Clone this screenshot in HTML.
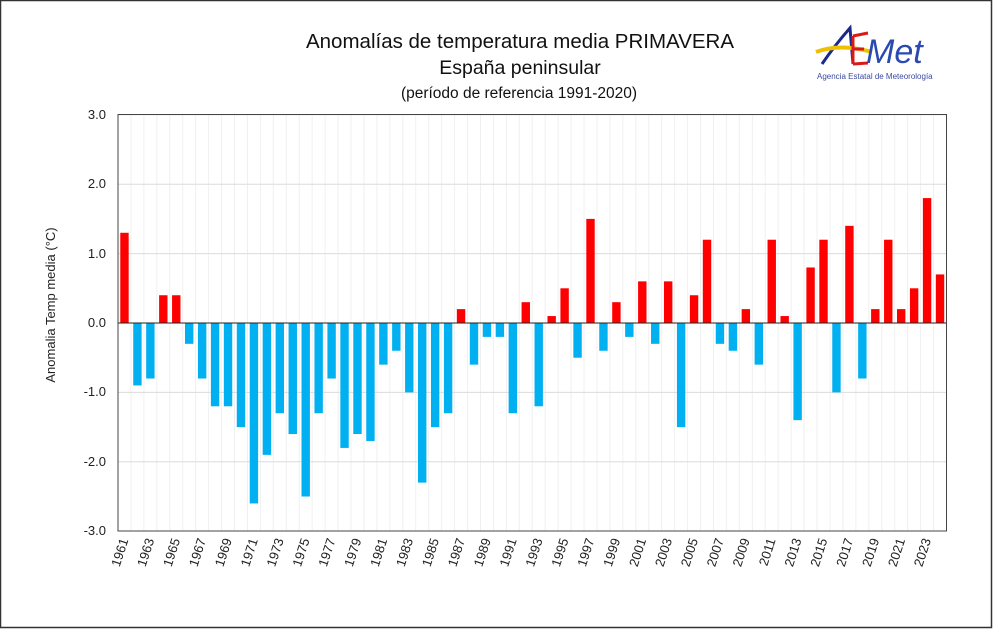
<!DOCTYPE html>
<html><head><meta charset="utf-8"><style>
body{margin:0;background:#fff}
svg{display:block;font-family:"Liberation Sans",sans-serif}
</style></head><body>
<svg width="993" height="629" viewBox="0 0 993 629" xmlns="http://www.w3.org/2000/svg">
<rect x="0.5" y="0.5" width="991" height="627" fill="#fff" stroke="#333" stroke-width="1.5"/>
<text x="520" y="48" font-size="20.5" text-anchor="middle" fill="#111">Anomalías de temperatura media PRIMAVERA</text>
<text x="520" y="74" font-size="19.5" text-anchor="middle" fill="#111">España peninsular</text>
<text x="519" y="98" font-size="15.5" text-anchor="middle" fill="#111">(período de referencia 1991-2020)</text>
<g id="logo">
<path d="M822 64 Q835 45 850 28 L853 64" stroke="#1a2a8c" stroke-width="3" fill="none"/>
<path d="M816 52 Q840 43 872 52" stroke="#f0c000" stroke-width="4" fill="none"/>
<path d="M853 36 L868 33 M853 49 L864 49 M853 64 L868 63 M853 36 L853 64" stroke="#d81a1a" stroke-width="3" fill="none"/>
<text x="866" y="63" font-size="34" font-style="italic" fill="#2a4ab0">Met</text>
<text x="817" y="79" font-size="8" fill="#3a4aa0">Agencia Estatal de Meteorología</text>
</g>
<g id="grid"></g>
<g id="bars"></g>
<rect x="118" y="114.5" width="828.5" height="416.5" fill="none" stroke="#444" stroke-width="1"/>
<g font-size="13" text-anchor="end" fill="#222">
<text x="106" y="119">3.0</text><text x="106" y="188">2.0</text><text x="106" y="258">1.0</text>
<text x="106" y="327">0.0</text><text x="106" y="396">-1.0</text><text x="106" y="466">-2.0</text><text x="106" y="535">-3.0</text>
</g>
<text transform="translate(55,305) rotate(-90)" font-size="13" text-anchor="middle" fill="#222">Anomalia Temp media (°C)</text>
<g id="labels" font-size="13" fill="#222" text-anchor="end"></g>
<script>
var v=[1.3,-0.9,-0.8,0.4,0.4,-0.3,-0.8,-1.2,-1.2,-1.5,-2.6,-1.9,-1.3,-1.6,-2.5,-1.3,-0.8,-1.8,-1.6,-1.7,-0.6,-0.4,-1.0,-2.3,-1.5,-1.3,0.2,-0.6,-0.2,-0.2,-1.3,0.3,-1.2,0.1,0.5,-0.5,1.5,-0.4,0.3,-0.2,0.6,-0.3,0.6,-1.5,0.4,1.2,-0.3,-0.4,0.2,-0.6,1.2,0.1,-1.4,0.8,1.2,-1.0,1.4,-0.8,0.2,1.2,0.2,0.5,1.8,0.7];
var ns="http://www.w3.org/2000/svg",x0=118,sw=828.5/64,y0=323,u=69.4;
var g=document.getElementById('grid'),b=document.getElementById('bars'),l=document.getElementById('labels');
function el(t,a,p){var e=document.createElementNS(ns,t);for(var k in a)e.setAttribute(k,a[k]);p.appendChild(e);return e;}
for(var i=1;i<64;i++){var x=x0+i*sw;el('line',{x1:x,x2:x,y1:115,y2:531,stroke:'#f0f0f0','stroke-width':1},g);}
[3,2,1,-1,-2].forEach(function(k){var y=y0-k*u;el('line',{x1:118,x2:946,y1:y,y2:y,stroke:'#dcdcdc','stroke-width':1},g);});
for(var i=0;i<64;i++){var cx=x0+i*sw+sw/2,h=v[i]*u;
el('rect',{x:cx-4.2,y:h>0?y0-h:y0,width:8.4,height:Math.abs(h),fill:h>0?'#ff0000':'#00b0f0'},b);
if(i%2==0){var t=el('text',{transform:'translate('+(cx+4)+',540) rotate(-72)'},l);t.textContent=1961+i;}}
el('line',{x1:118,x2:946,y1:y0,y2:y0,stroke:'#222','stroke-width':1},b);
</script>
</svg>
</body></html>
